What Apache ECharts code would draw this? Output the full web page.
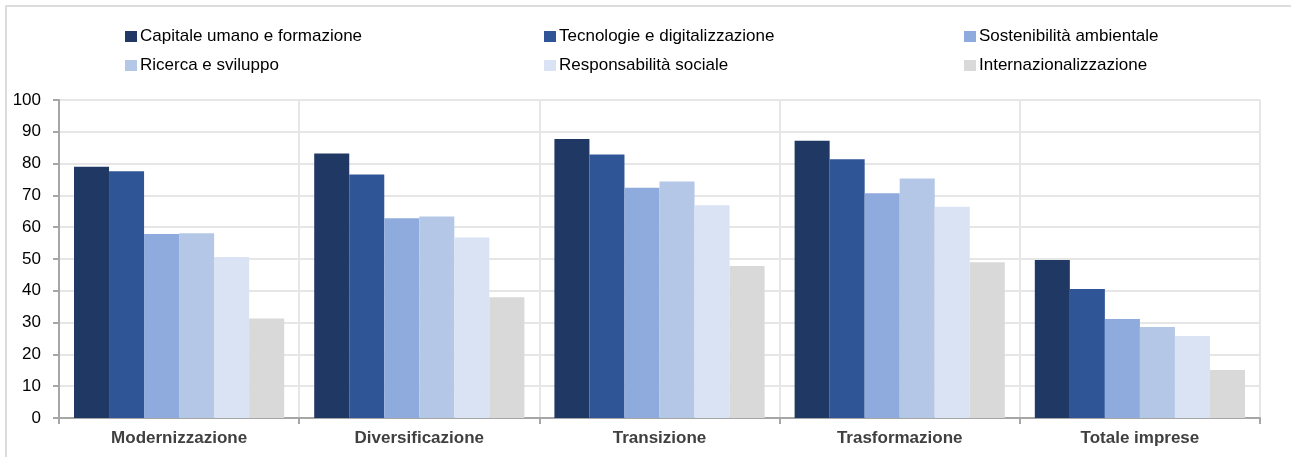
<!DOCTYPE html>
<html style="height: 100%">

<head>
    <meta charset="utf-8">
    <script src="https://cdn.jsdelivr.net/npm/echarts@6/dist/echarts.min.js"></script>
</head>

<body style="height: 100%; margin: 0; background: #fff">
    <div id="chart" style="width: 1291px; height: 457px"></div>
    <script type="text/javascript">
        var categories = ['Modernizzazione', 'Diversificazione', 'Transizione', 'Trasformazione', 'Totale imprese'];
        var seriesNames = ['Capitale umano e formazione', 'Tecnologie e digitalizzazione', 'Sostenibilità ambientale',
            'Ricerca e sviluppo', 'Responsabilità sociale', 'Internazionalizzazione'];
        var capitale = [79.0, 83.2, 87.7, 87.2, 49.7];
        var tecnologie = [77.6, 76.6, 82.9, 81.4, 40.6];
        var sostenibilita = [57.9, 62.8, 72.4, 70.7, 31.1];
        var ricerca = [58.1, 63.4, 74.4, 75.3, 28.6];
        var responsabilita = [50.6, 56.8, 66.9, 66.4, 25.8];
        var internaz = [31.3, 38.0, 47.8, 49.0, 15.1];
        var colors = ['#203864', '#2f5597', '#8faadc', '#b4c7e7', '#dae3f3', '#d9d9d9'];

        var values = [capitale, tecnologie, sostenibilita, ricerca, responsabilita, internaz];
        var font = "'Liberation Sans', Arial, sans-serif";

        // three legend columns, two rows each
        var legendCols = [[0, 3], [1, 4], [2, 5]];
        var legendLeft = [120, 539, 959];
        var legends = legendCols.map(function (col, i) {
            return {
                orient: 'vertical',
                left: legendLeft[i],
                top: 23,
                itemGap: 12,
                itemWidth: 12,
                itemHeight: 11,
                icon: 'rect',
                selectedMode: false,
                textStyle: { fontFamily: font, fontSize: 17, color: '#000', padding: [0, 0, 0, -2] },
                data: col.map(function (k) { return seriesNames[k]; })
            };
        });

        var myChart = echarts.init(document.getElementById('chart'));
        myChart.setOption({
            animation: false,
            color: colors,
            legend: legends,
            graphic: [{
                type: 'rect',
                shape: { x: 6, y: 6, width: 1300, height: 500 },
                style: { fill: 'none', stroke: '#dcdcdc', lineWidth: 2 },
                silent: true
            }],
            grid: { left: 59, right: 31, top: 100, bottom: 39 },
            xAxis: {
                type: 'category',
                data: categories,
                axisLine: { lineStyle: { color: '#a6a6a6', width: 2 } },
                axisTick: { show: true, length: 6, lineStyle: { color: '#a6a6a6', width: 2 } },
                splitLine: { show: true, lineStyle: { color: '#e6e6e6', width: 2 } },
                axisLabel: { fontFamily: font, fontSize: 17, fontWeight: 'bold', color: '#404040', margin: 12 }
            },
            yAxis: {
                type: 'value',
                min: 0,
                max: 100,
                interval: 10,
                axisLine: { show: true, lineStyle: { color: '#a6a6a6', width: 2 } },
                axisTick: { show: true, length: 6, lineStyle: { color: '#a6a6a6', width: 2 } },
                splitLine: { show: true, lineStyle: { color: '#e6e6e6', width: 2 } },
                axisLabel: { fontFamily: font, fontSize: 17, color: '#000', margin: 18 }
            },
            series: values.map(function (v, i) {
                return {
                    name: seriesNames[i],
                    type: 'bar',
                    data: v,
                    barGap: '0%',
                    barCategoryGap: '12.5%',
                    itemStyle: { color: colors[i] }
                };
            })
        });
    </script>
</body>

</html>
